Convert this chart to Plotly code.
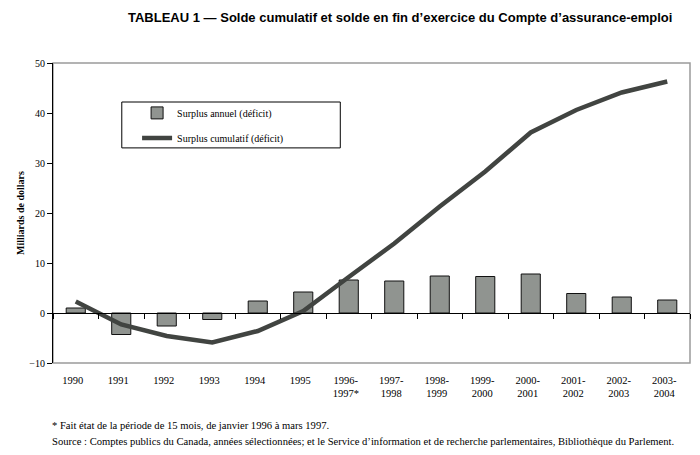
import plotly.graph_objects as go

# exercices (catégories de l'axe x)
periodes = ['1990', '1991', '1992', '1993', '1994', '1995', '1996-<br>1997*',
            '1997-<br>1998', '1998-<br>1999', '1999-<br>2000', '2000-<br>2001',
            '2001-<br>2002', '2002-<br>2003', '2003-<br>2004']
# surplus annuel (déficit), milliards $
surplus_annuel = [1.0, -4.3, -2.6, -1.3, 2.4, 4.2, 6.6, 6.4, 7.4, 7.3, 7.8, 3.9, 3.2, 2.6]
# surplus cumulatif (déficit), milliards $
surplus_cumulatif = [2.3, -2.3, -4.6, -5.9, -3.6, 0.4, 7.2, 13.9, 21.3, 28.3, 36.1, 40.6, 44.1, 46.3]

serif = 'Liberation Serif'

fig = go.Figure()
fig.add_trace(go.Bar(x=periodes, y=surplus_annuel, name='Surplus annuel (déficit)',
                     legendgroup='a',
                     marker=dict(color='#909490', line=dict(color='#111111', width=1)),
                     width=0.42))
# line on an overlaying axis so it sits above the bars; that axis also draws the zero line
fig.add_trace(go.Scatter(x=periodes, y=surplus_cumulatif, name='Surplus cumulatif (déficit)',
                         legendgroup='b',
                         mode='lines', line=dict(color='#414441', width=4.5),
                         xaxis='x2', yaxis='y'))

# page body adds ~8px offset, margins are trimmed to compensate
fig.update_layout(
    width=700, height=455,
    margin=dict(l=42, r=18, t=55, b=100),
    paper_bgcolor='white', plot_bgcolor='white',
    font=dict(family=serif, size=10, color='black'),
    showlegend=True,
    legend=dict(x=0.132, y=0.882, xanchor='left', yanchor='top',
                borderwidth=0, bgcolor='rgba(0,0,0,0)',
                font=dict(family=serif, size=10),
                itemwidth=30, tracegroupgap=6),
    xaxis=dict(type='category', range=[-0.5, 13.5], showline=False,
               ticks='outside', ticklen=7, tickcolor='rgba(0,0,0,0)', ticklabelshift=-3,
               showgrid=False, tickfont=dict(family=serif, size=10.5)),
    xaxis2=dict(type='category', overlaying='x', anchor='free', position=1 / 6,
                range=[-0.5, 13.5], showline=True, linecolor='black', linewidth=1,
                ticks='outside', tickson='boundaries', ticklen=5, tickcolor='black',
                showticklabels=False, showgrid=False),
    yaxis=dict(range=[-10, 50], dtick=10, showline=True, linecolor='black', linewidth=1,
               ticks='outside', ticklen=5, tickcolor='black', showgrid=False,
               zeroline=False, tickfont=dict(family=serif, size=10),
               title=dict(text='<b>Milliards de dollars</b>', font=dict(family=serif, size=10),
                          standoff=2)),
    shapes=[
        dict(type='rect', xref='paper', yref='paper', x0=0, x1=1, y0=0, y1=1,
             line=dict(color='#9a9a9a', width=1.5), layer='below'),
        # legend frame
        dict(type='rect', xref='paper', yref='paper', x0=0.108, x1=0.451, y0=0.717, y1=0.87,
             line=dict(color='black', width=1), fillcolor='white', layer='below'),
    ],
    annotations=[
        dict(text="<b>TABLEAU 1 — Solde cumulatif et solde en fin d’exercice du Compte d’assurance-emploi</b>",
             xref='paper', yref='paper', x=0.545, y=1, yshift=46, xanchor='center', yanchor='middle',
             showarrow=False, font=dict(family='Liberation Sans', size=13)),
        dict(text='* Fait état de la période de 15 mois, de janvier 1996 à mars 1997.',
             xref='paper', yref='paper', x=-0.005, y=0, yshift=-62, xanchor='left', yanchor='middle',
             showarrow=False, font=dict(family=serif, size=10.6)),
        dict(text='Source : Comptes publics du Canada, années sélectionnées; et le Service d’information '
                  'et de recherche parlementaires, Bibliothèque du Parlement.',
             xref='paper', yref='paper', x=-0.005, y=0, yshift=-78, xanchor='left', yanchor='middle',
             showarrow=False, font=dict(family=serif, size=10.6)),
    ],
)

fig.write_html("out.html")
